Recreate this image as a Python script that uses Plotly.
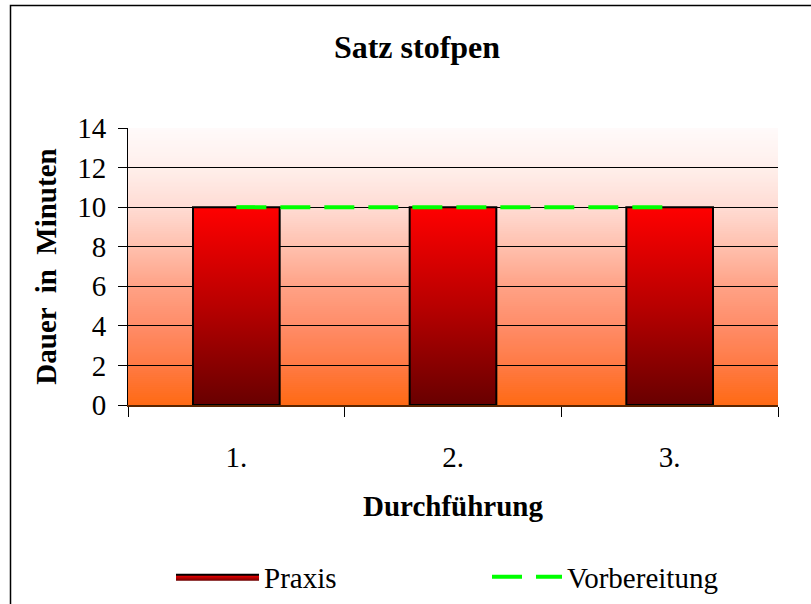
import plotly.graph_objects as go

# ---- data ----
categories = ["1.", "2.", "3."]
praxis = [10, 10, 10]
vorbereitung = [10, 10, 10]

title_text = "Satz stofpen"
x_title = "Durchführung"
y_title = "Dauer  in  Minuten"
y_ticks = [0, 2, 4, 6, 8, 10, 12, 14]

FONT = "Liberation Serif"
BAR_HALF = 0.2
W, H = 811, 604

idx = list(range(len(categories)))

# bars as filled polygons (to get vertical gradient)
bx, by = [], []
for i, v in zip(idx, praxis):
    bx += [i - BAR_HALF, i - BAR_HALF, i + BAR_HALF, i + BAR_HALF, i - BAR_HALF, None]
    by += [0, v, v, 0, 0, None]

fig = go.Figure()
fig.add_trace(go.Scatter(
    x=bx, y=by, mode="lines", fill="toself", name="Praxis",
    line=dict(color="black", width=2),
    fillgradient=dict(type="vertical",
                      colorscale=[[0, "#680000"], [0.5, "#b80000"], [1, "#ff0000"]]),
    hoverinfo="skip", legend="legend",
))
fig.add_trace(go.Scatter(
    x=idx, y=vorbereitung, mode="lines", name="Vorbereitung",
    line=dict(color="#00ff00", width=4, dash="30px,14px"), legend="legend2",
))

# background gradient bands (styling)
stops = [(0, (255, 106, 20)), (2, (255, 122, 68)), (4, (255, 140, 104)),
         (6, (255, 162, 134)), (8, (255, 192, 174)), (10, (255, 220, 212)),
         (12, (255, 239, 235)), (14, (255, 250, 250))]

def col(y):
    for (y0, c0), (y1, c1) in zip(stops[:-1], stops[1:]):
        if y0 <= y <= y1:
            t = (y - y0) / (y1 - y0)
            return "rgb(%d,%d,%d)" % tuple(round(a + (b - a) * t) for a, b in zip(c0, c1))
    return "rgb(255,250,250)"

n = 140
shapes = []
for k in range(n):
    y0 = 14 * k / n
    y1 = min(14, 14 * (k + 1) / n + 0.15)
    shapes.append(dict(type="rect", xref="x domain", yref="y", x0=0, x1=1, y0=y0, y1=y1,
                       fillcolor=col(14 * (k + 0.5) / n), line=dict(width=0), layer="below"))
# outer chart frame
px2x = lambda px: (px - 128) / 650
py2y = lambda py: (405 - py) / 277
shapes.append(dict(type="rect", xref="paper", yref="paper",
                   x0=px2x(10.5), x1=px2x(840), y0=py2y(640), y1=py2y(5.5),
                   line=dict(color="black", width=1.5), fillcolor="rgba(0,0,0,0)"))

fig.update_layout(
    width=W, height=H,
    margin=dict(l=128, r=33, t=128, b=199, autoexpand=False),
    paper_bgcolor="white", plot_bgcolor="rgba(0,0,0,0)",
    font=dict(family=FONT, size=29, color="black"),
    title=dict(text="<b>" + title_text + "</b>", x=417 / W, xanchor="center",
               y=1 - 47 / H, yanchor="middle", font=dict(size=32, family=FONT)),
    shapes=shapes,
    showlegend=True,
    legend=dict(orientation="h", xref="container", yref="container",
                x=171 / W, xanchor="left", y=1 - 577 / H, yanchor="middle",
                font=dict(size=29, family=FONT), itemwidth=83,
                bgcolor="rgba(0,0,0,0)"),
    legend2=dict(orientation="h", xref="container", yref="container",
                 x=487 / W, xanchor="left", y=1 - 577 / H, yanchor="middle",
                 font=dict(size=29, family=FONT), itemwidth=70,
                 bgcolor="rgba(0,0,0,0)"),
)
fig.update_xaxes(
    range=[-0.5, 2.5], tickvals=idx, ticktext=categories, ticks="", showgrid=False,
    zeroline=False, showline=True, linecolor="#5a2500", linewidth=1.5, automargin=False,
    ticklabelstandoff=25, tickfont=dict(size=29),
    minor=dict(tickvals=[i - 0.5 for i in range(len(categories) + 1)], ticks="outside",
               ticklen=10, tickcolor="black", tickwidth=1, showgrid=False),
    title=dict(text="<b>" + x_title + "</b>", standoff=24, font=dict(size=29)),
)
fig.update_yaxes(
    range=[0, 14], tickvals=y_ticks, showgrid=True, gridcolor="black", gridwidth=1,
    zeroline=False, showline=True, linecolor="black", linewidth=1, automargin=False,
    ticks="outside", ticklen=9, tickcolor="black", ticklabelstandoff=6,
    tickfont=dict(size=29),
    title=dict(text="<b>" + y_title + "</b>", standoff=12, font=dict(size=29)),
)

fig.write_html("out.html", config={"displayModeBar": False},
               post_script="document.body.style.margin='0';")
